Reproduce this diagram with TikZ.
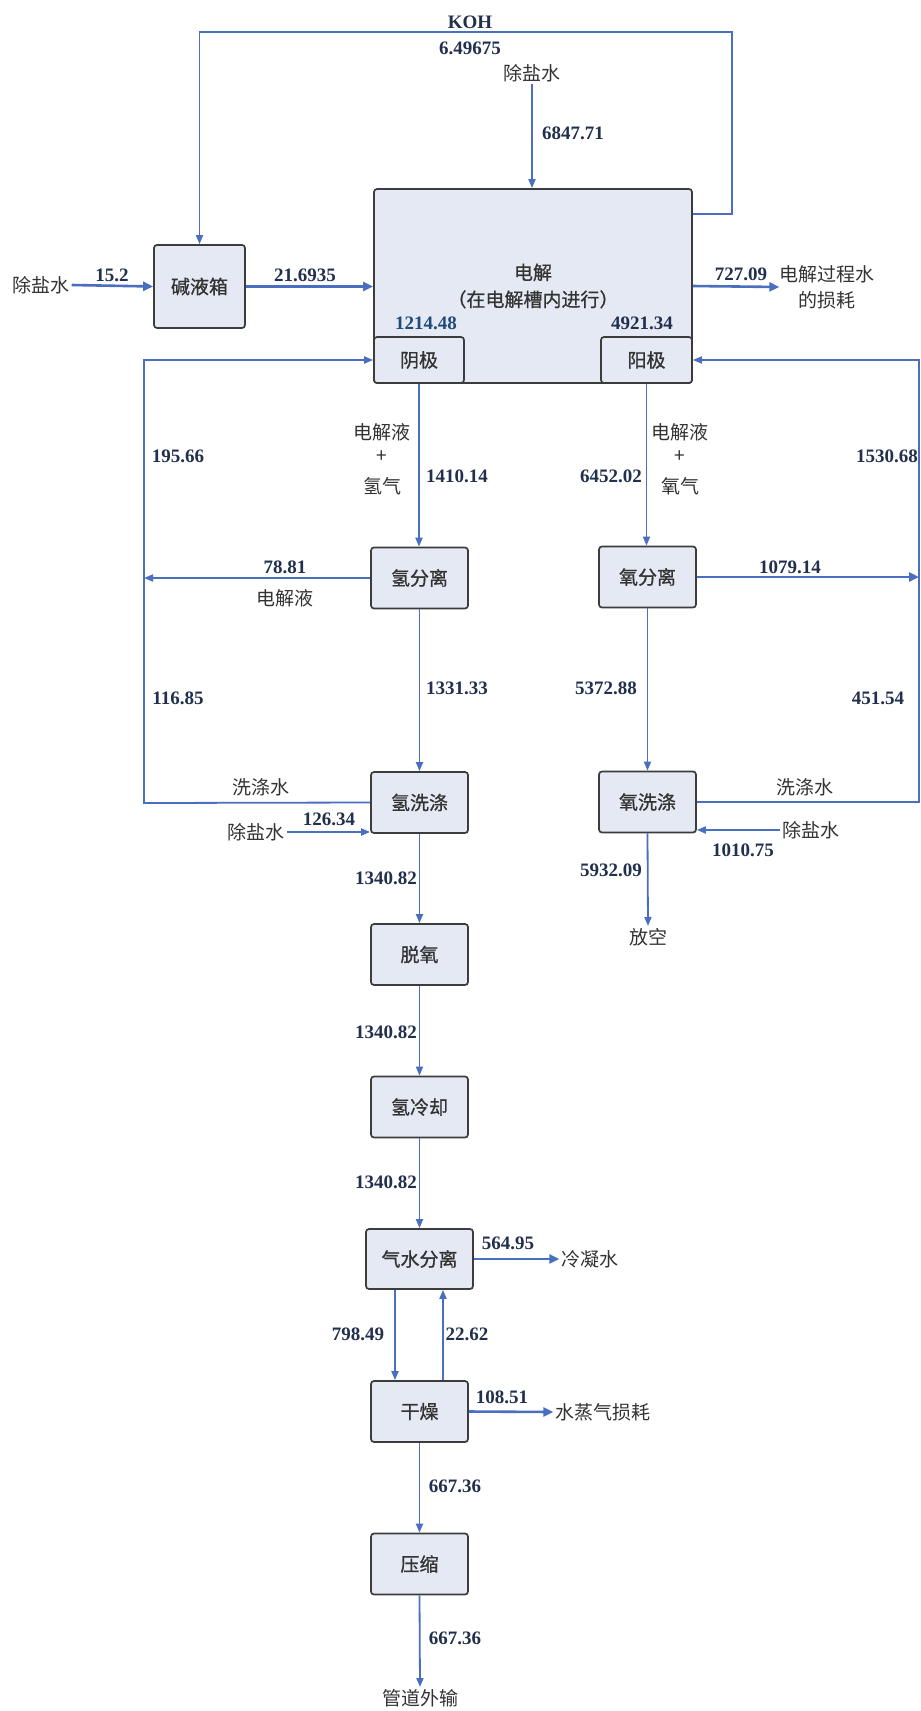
\documentclass[tikz,border=0pt]{standalone}
\usepackage{fontspec}
\setmainfont{Liberation Serif}
\newfontfamily\cjk{Noto Sans CJK SC}
\newfontfamily\cjkb[FakeBold=0.8]{Noto Sans CJK SC}
\usetikzlibrary{arrows.meta}
\definecolor{flow}{HTML}{4A6FC1}
\definecolor{numc}{HTML}{22304E}
\definecolor{numb}{HTML}{1F4A7A}
\definecolor{txtc}{HTML}{333333}
\definecolor{boxfill}{HTML}{E4E9F3}
\definecolor{boxline}{HTML}{3C3C3C}
\begin{document}
\begin{tikzpicture}[x=1pt,y=-1pt,
  proc/.style={draw=boxline, line width=1.7pt, fill=boxfill, rounded corners=3pt,
    minimum width=97pt, minimum height=61pt, inner sep=0pt,
    font=\cjkb\fontsize{19}{22}\selectfont, text=txtc},
  num/.style={font=\bfseries\fontsize{19}{21}\selectfont, text=numc, inner sep=0pt},
  lbl/.style={font=\cjk\fontsize{19}{21}\selectfont, text=txtc, inner sep=2pt},
  fl/.style={draw=flow, line width=1.8pt, -{Triangle[length=9pt,width=7pt]}},
  flthick/.style={draw=flow, line width=2.6pt, -{Triangle[length=10pt,width=9pt]}}
]
\useasboundingbox[fill=white] (0,0) rectangle (921,1711);

% process boxes
\node[proc, minimum width=91pt, minimum height=83pt] (tank) at (199.5,286.5) {碱液箱};
\node[proc, minimum width=318pt, minimum height=194pt, align=center,
  font=\cjkb\fontsize{19}{27}\selectfont] (elec) at (533,286) {电解\\（在电解槽内进行）};
\node[proc, minimum width=90pt, minimum height=46pt] (cathode) at (419,360) {阴极};
\node[proc, minimum width=91pt, minimum height=46pt] (anode) at (646.5,360) {阳极};
\node[proc] (hsep) at (419.5,578) {氢分离};
\node[proc] (osep) at (647.5,577) {氧分离};
\node[proc] (hwash) at (419.5,802.5) {氢洗涤};
\node[proc] (owash) at (647.5,802) {氧洗涤};
\node[proc] (deox) at (419.5,954.5) {脱氧};
\node[proc] (hcool) at (419.5,1107) {氢冷却};
\node[proc, minimum width=107pt, minimum height=60pt] (gws) at (419.5,1259) {气水分离};
\node[proc] (dry) at (419.5,1411.5) {干燥};
\node[proc] (comp) at (419.5,1564) {压缩};

% free-standing labels
\node[lbl] (ds0) at (532,73) {除盐水};
\node[lbl] (ds1) at (41,285) {除盐水};
\node[lbl, align=center, inner sep=0pt, font=\cjk\fontsize{19}{26}\selectfont] (loss) at (827,287) {电解过程水\\的损耗};
\node[lbl] (dsh) at (256,832) {除盐水};
\node[lbl] (dso) at (811,830) {除盐水};
\node[lbl] (vent) at (648,937) {放空};
\node[lbl] (cond) at (590,1259) {冷凝水};
\node[lbl] (steam) at (603,1412) {水蒸气损耗};
\node[lbl] (pipe) at (420,1698) {管道外输};

\node[lbl] (wl1) at (382,432) {电解液};
\node[lbl] (wl2) at (382,457) {+};
\node[lbl] (wl3) at (382,486) {氢气};
\node[lbl] (wr1) at (680,432) {电解液};
\node[lbl] (wr2) at (680,457) {+};
\node[lbl] (wr3) at (680,486) {氧气};
\node[lbl] (el) at (285,598) {电解液};
\node[lbl] (wwl) at (261,787) {洗涤水};
\node[lbl] (wwr) at (805,787) {洗涤水};

% numbers
\node[num] (koh) at (470,22) {KOH};
\node[num] (n1) at (470,48) {6.49675};
\node[num] (n2) at (573,133) {6847.71};
\node[num] (n3) at (112,275) {15.2};
\node[num] (n4) at (305,275) {21.6935};
\node[num] (n5) at (741,274) {727.09};
\node[num, text=numb] (n6) at (426,323) {1214.48};
\node[num] (n7) at (642,323) {4921.34};
\node[num] (n8) at (457,476) {1410.14};
\node[num] (n9) at (178,456) {195.66};
\node[num] (n10) at (611,476) {6452.02};
\node[num] (n11) at (887,456) {1530.68};
\node[num] (n12) at (285,567) {78.81};
\node[num] (n13) at (790,567) {1079.14};
\node[num] (n14) at (457,688) {1331.33};
\node[num] (n15) at (178,698) {116.85};
\node[num] (n16) at (606,688) {5372.88};
\node[num] (n17) at (878,698) {451.54};
\node[num] (n18) at (329,819) {126.34};
\node[num] (n19) at (743,850) {1010.75};
\node[num] (n20) at (611,870) {5932.09};
\node[num] (n21) at (386,878) {1340.82};
\node[num] (n22) at (386,1032) {1340.82};
\node[num] (n23) at (386,1182) {1340.82};
\node[num] (n24) at (508,1243) {564.95};
\node[num] (n25) at (358,1334) {798.49};
\node[num] (n26) at (467,1334) {22.62};
\node[num] (n27) at (502,1397) {108.51};
\node[num] (n28) at (455,1486) {667.36};
\node[num] (n29) at (455,1638) {667.36};

% corner coordinates
\coordinate (k1) at (732,214);
\coordinate (k2) at (732,32);
\coordinate (k3) at (199.5,32);
\coordinate (L1) at (144,803);
\coordinate (L2) at (144,360);
\coordinate (R1) at (919,802);
\coordinate (R2) at (919,360);

% connectors
\draw[fl] (elec.east |- k1) -- (k1) -- (k2) -- (k3) -- (tank.north);
\draw[fl] (ds0.south) -- (ds0.south |- elec.north);
\draw[flthick] (ds1.east) -- (tank.west);
\draw[flthick] (tank.east) -- (tank.east -| elec.west);
\draw[flthick] (elec.east) -- (loss.west);
\draw[fl] (cathode.south) -- (cathode.south |- hsep.north);
\draw[fl] (anode.south) -- (anode.south |- osep.north);
\draw[fl] (hwash.west) -- (L1) -- (L2) -- (cathode.west);
\draw[fl] (hsep.west) -- (hsep.west -| L1);
\draw[fl] (owash.east) -- (R1) -- (R2) -- (anode.east);
\draw[flthick] (osep.east) -- (osep.east -| R1);
\draw[fl] (hsep.south) -- (hwash.north);
\draw[fl] (osep.south) -- (owash.north);
\draw[fl] (dsh.east) -- (dsh.east -| hwash.west);
\draw[fl] (dso.west) -- (dso.west -| owash.east);
\draw[fl] (hwash.south) -- (deox.north);
\draw[fl] (owash.south) -- (vent.north);
\draw[fl] (deox.south) -- (hcool.north);
\draw[fl] (hcool.south) -- (gws.north);
\draw[flthick] (gws.east) -- (cond.west);
\draw[fl] ([xshift=-24.5pt]gws.south) -- ([xshift=-24.5pt]dry.north);
\draw[fl] ([xshift=23.5pt]dry.north) -- ([xshift=23.5pt]gws.south);
\draw[flthick] (dry.east) -- (steam.west);
\draw[fl] (dry.south) -- (comp.north);
\draw[fl] (comp.south) -- (pipe.north);
\end{tikzpicture}
\end{document}
